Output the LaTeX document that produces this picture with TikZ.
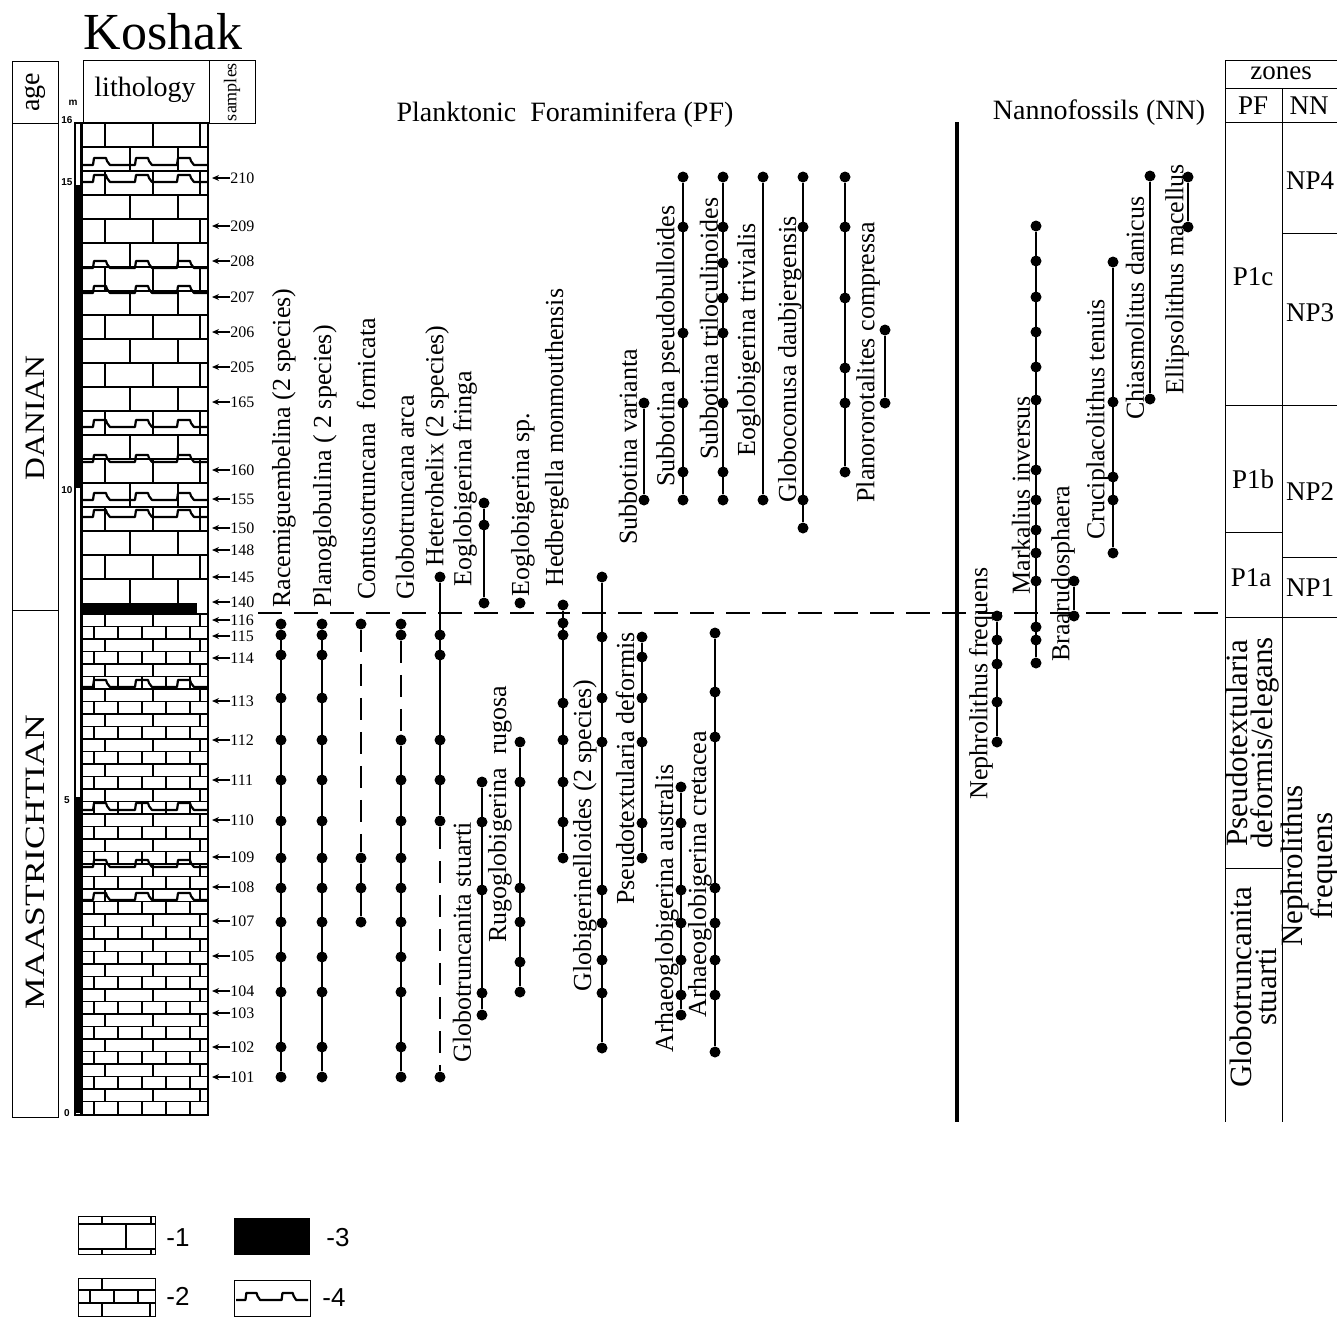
\documentclass[tikz,border=0pt]{standalone}
\usepackage{fontspec}
\setmainfont{Liberation Serif}
\setsansfont{Liberation Sans}
\usetikzlibrary{arrows.meta}

% dots of one range: name, x, list of y
\newcommand{\taxon}[3]{%
  \foreach \yy [count=\k] in {#3} {\node[fdot] (#1-\k) at (#2,\yy) {};}
}
% hardground line: left x, y, number of humps
\newcommand{\hardgr}[3]{%
  \draw[hg] (#1,#2) \foreach \p in {1,...,#3} { -- ++(11,0) -- ++(1,-7) -- ++(12,0) -- ++(1,3) -- ++(3,4) -- ++(14,0)};
}

\begin{document}
\begin{tikzpicture}[x=0.5pt, y=-0.5pt,
    fdot/.style={circle, fill=black, inner sep=0pt, minimum size=5.5pt},
    rng/.style={line width=1pt},
    rngd/.style={line width=1pt, dash pattern=on 11pt off 6pt},
    bnd/.style={line width=1pt, dash pattern=on 12pt off 6pt},
    lbl/.style={rotate=90, anchor=west, inner sep=0pt, font=\fontsize{13}{13}\selectfont},
    hdr/.style={inner sep=0pt, font=\fontsize{14}{14}\selectfont},
    zlbl/.style={inner sep=0pt, font=\fontsize{13.5}{14}\selectfont},
    zrot/.style={rotate=90, align=center, inner sep=0pt, font=\fontsize{15.5}{12.5}\selectfont},
    bline/.style={line width=0.5pt},
    brick/.style={line width=0.55pt},
    hg/.style={line width=1.1pt, line join=round},
    smp/.style={anchor=west, inner sep=0pt, font=\fontsize{8}{8}\selectfont},
    smparrow/.style={-{Stealth[length=3.5pt,width=3pt]}, line width=0.6pt},
    scalelbl/.style={inner sep=0pt, font=\sffamily\bfseries\fontsize{5}{5}\selectfont},
    leg/.style={inner sep=0pt, font=\sffamily\fontsize{13}{13}\selectfont}
]
    \fill[white] (0,0) rectangle (1337,1318);
    \useasboundingbox (0,0) rectangle (1337,1318);

    % Title and headers
    \node[font=\fontsize{26}{26}\selectfont, inner sep=0pt] (title) at (163,32) {Koshak};
    \draw[bline] (12,61) rectangle (58,123);
    \draw[bline] (12,123) rectangle (58,1117);
    \draw[bline] (12,610) -- (58,610);
    \node[rotate=90, inner sep=0pt, font=\fontsize{14}{14}\selectfont] (agehd) at (35,92) {age};
    \node[rotate=90, xscale=1.13, inner sep=0pt, font=\fontsize{14}{14}\selectfont] (danian) at (35,418) {DANIAN};
    \node[rotate=90, xscale=1.27, inner sep=0pt, font=\fontsize{14}{14}\selectfont] (maastr) at (35,862) {MAASTRICHTIAN};
    \draw[bline] (83,60) rectangle (209,123);
    \draw[bline] (209,60) rectangle (255,123);
    \node[inner sep=0pt, font=\fontsize{14}{14}\selectfont] (lithhd) at (145,90) {lithology};
    \node[rotate=90, inner sep=0pt, font=\fontsize{9}{9}\selectfont] (samphd) at (232,92) {samples};
    \node[hdr] (pfhd) at (565,115) {Planktonic~ Foraminifera (PF)};
    \node[hdr] (nnhd) at (1099,113) {Nannofossils (NN)};

    % Depth scale
    \node[scalelbl] (munit) at (73,103) {m};
    \foreach \m/\y in {16/120,15/182,10/490,5/800,0/1113}
        \node[scalelbl] (dep\m) at (67,\y) {\m};
    \draw[line width=0.8pt] (75,123) rectangle (81,1115);
    \fill (75,185) rectangle (81,488);
    \fill (75,797) rectangle (81,1113);

    % Lithology: Danian limestone
    \foreach \r in {0,...,19} {
        \draw[brick] (82,123+24*\r) -- (208,123+24*\r);
        \ifodd\r
            \foreach \xx in {130,178} \draw[brick] (\xx,123+24*\r) -- (\xx,147+24*\r);
        \else
            \foreach \xx in {105,153,200} \draw[brick] (\xx,123+24*\r) -- (\xx,147+24*\r);
        \fi
    }
    % Lithology: Maastrichtian limestone
    \foreach \r in {0,...,39} {
        \draw[brick] (82,614+12.5*\r) -- (208,614+12.5*\r);
        \ifodd\r
            \foreach \xx in {94,118,142,166,190} \draw[brick] (\xx,614+12.5*\r) -- (\xx,626.5+12.5*\r);
        \else
            \foreach \xx in {105,153,200} \draw[brick] (\xx,614+12.5*\r) -- (\xx,626.5+12.5*\r);
        \fi
    }
    \fill (82,603) rectangle (197,614);
    \foreach \hy in {165,182,268,293,427,462,500,517,687,810,867,900}
        \hardgr{82}{\hy}{3}
    \draw[line width=1pt] (82,123) rectangle (208,1115);

    % Samples
    \foreach \s/\y in {210/178,209/226,208/261,207/297,206/332,205/367,165/402,160/470,155/499,150/528,148/550,145/577,140/602,
                       116/620,115/636,114/658,113/701,112/740,111/780,110/820,109/857,108/887,107/921,105/956,104/991,103/1013,102/1047,101/1077} {
        \node[smp] (smp\s) at (230,\y) {\s};
        \coordinate (tip\s) at (212,\y);
        \draw[smparrow] (smp\s.west) -- (tip\s);
    }

    % K/Pg boundary and PF/NN divider
    \coordinate (kpgW) at (258,613);
    \coordinate (kpgE) at (1225,613);
    \draw[bnd] (kpgW) -- (kpgE);
    \coordinate (divN) at (957,122);
    \coordinate (divS) at (957,1122);
    \draw[line width=2.2pt] (divN) -- (divS);

    % Planktonic foraminifera, Maastrichtian
    \taxon{rac}{281}{624,635,655,698,740,780,821,858,888,922,957,992,1047,1077}
    \draw[rng] (rac-1) -- (rac-14);
    \taxon{pla}{322}{624,635,655,698,740,780,821,858,888,922,957,992,1047,1077}
    \draw[rng] (pla-1) -- (pla-14);
    \taxon{con}{361}{624,858,888,922}
    \draw[rngd] (con-1) -- (con-2);
    \draw[rng] (con-2) -- (con-4);
    \taxon{arc}{401}{624,635,740,780,821,858,888,922,957,992,1047,1077}
    \draw[rngd] (arc-2) -- (arc-3);
    \draw[rng] (arc-3) -- (arc-12);
    \taxon{het}{440}{577,635,655,740,780,821,1077}
    \draw[rng] (het-1) -- (het-6);
    \draw[rngd] (het-6) -- (het-7);
    \taxon{gst}{482}{782,822,890,993,1015}
    \draw[rng] (gst-1) -- (gst-5);
    \taxon{rug}{520}{742,782,888,922,962,992}
    \draw[rng] (rug-1) -- (rug-6);
    \taxon{hed}{563}{605,623,635,703,740,782,822,858}
    \draw[rng] (hed-1) -- (hed-8);
    \taxon{glo}{602}{577,637,698,742,890,923,960,993,1048}
    \draw[rng] (glo-1) -- (glo-9);
    \taxon{pse}{642}{637,657,698,742,823,858}
    \draw[rng] (pse-1) -- (pse-6);
    \taxon{aus}{681}{787,823,890,923,960,995,1015}
    \draw[rng] (aus-1) -- (aus-7);
    \taxon{cre}{715}{633,692,737,888,923,960,995,1052}
    \draw[rng] (cre-1) -- (cre-8);

    % Planktonic foraminifera, Danian
    \taxon{efr}{484}{503,525,603}
    \draw[rng] (efr-1) -- (efr-3);
    \taxon{esp}{520}{603}
    \taxon{sva}{644}{403,500}
    \draw[rng] (sva-1) -- (sva-2);
    \taxon{spb}{683}{177,227,333,403,472,500}
    \draw[rng] (spb-1) -- (spb-6);
    \taxon{str}{723}{177,227,263,298,333,403,472,500}
    \draw[rng] (str-1) -- (str-8);
    \taxon{etr}{763}{177,500}
    \draw[rng] (etr-1) -- (etr-2);
    \taxon{gda}{803}{177,227,500,528}
    \draw[rng] (gda-1) -- (gda-4);
    \taxon{pco}{845}{177,227,298,368,403,472}
    \draw[rng] (pco-1) -- (pco-6);
    \taxon{pcb}{885}{330,403}
    \draw[rng] (pcb-1) -- (pcb-2);

    % Nannofossils
    \taxon{nfr}{997}{616,640,664,702,742}
    \draw[rng] (nfr-1) -- (nfr-5);
    \taxon{min}{1036}{226,261,297,332,367,400,470,500,530,553,581,627,640,663}
    \draw[rng] (min-1) -- (min-14);
    \taxon{bra}{1074}{581,616}
    \draw[rng] (bra-1) -- (bra-2);
    \taxon{cte}{1113}{262,402,477,500,553}
    \draw[rng] (cte-1) -- (cte-5);
    \taxon{cda}{1150}{176,399}
    \draw[rng] (cda-1) -- (cda-2);
    \taxon{ema}{1188}{177,227}
    \draw[rng] (ema-1) -- (ema-2);

    % Range labels
    \node[lbl] (lrac) at (284,608) {Racemiguembelina (2 species)};
    \node[lbl] (lpla) at (325,608) {Planoglobulina ( 2 species)};
    \node[lbl] (lcon) at (366,600) {Contusotruncana~ fornicata};
    \node[lbl] (larc) at (405,600) {Globotruncana arca};
    \node[lbl] (lhet) at (437,567) {Heterohelix (2 species)};
    \node[lbl] (lefr) at (465,587) {Eoglobigerina fringa};
    \node[lbl] (lesp) at (523,597) {Eoglobigerina sp.};
    \node[lbl] (lhed) at (557,587) {Hedbergella monmouthensis};
    \node[lbl] (lsva) at (628,545) {Subbotina varianta};
    \node[lbl] (lspb) at (668,487) {Subbotina pseudobulloides};
    \node[lbl] (lstr) at (709,460) {Subbotina triloculinoides};
    \node[lbl] (letr) at (749,457) {Eoglobigerina trivialis};
    \node[lbl] (lgda) at (790,503) {Globoconusa daubjergensis};
    \node[lbl] (lpco) at (868,503) {Planororotalites compressa};
    \node[lbl] (lgst) at (462,1063) {Globotruncanita stuarti};
    \node[lbl] (lrug) at (500,943) {Rugoglobigerina~ rugosa};
    \node[lbl] (lglo) at (585,992) {Globigerinelloides (2 species)};
    \node[lbl] (lpse) at (625,905) {Pseudotextularia deformis};
    \node[lbl] (laus) at (667,1053) {Arhaeoglobigerina australis};
    \node[lbl] (lcre) at (700,1018) {Arhaeoglobigerina cretacea};
    \node[lbl] (lnfr) at (981,800) {Nephrolithus frequens};
    \node[lbl] (lmin) at (1021,595) {Markalius inversus};
    \node[lbl] (lbra) at (1063,662) {Braarudosphaera};
    \node[lbl] (lcte) at (1098,540) {Cruciplacolithus tenuis};
    \node[lbl] (lcda) at (1135,420) {Chiasmolitus danicus};
    \node[lbl] (lema) at (1177,395) {Ellipsolithus macellus};

    % Zones
    \draw[bline] (1225,60) -- (1337,60) (1225,88) -- (1337,88) (1225,122) -- (1337,122);
    \draw[bline] (1225,60) -- (1225,1122) (1282,88) -- (1282,1122);
    \draw[bline] (1225,405) -- (1337,405) (1225,617) -- (1337,617);
    \draw[bline] (1225,532) -- (1282,532) (1225,868) -- (1282,868);
    \draw[bline] (1282,233) -- (1337,233) (1282,557) -- (1337,557);
    \node[zlbl] (zhd) at (1281,73) {zones};
    \node[zlbl] (zpf) at (1253,106) {PF};
    \node[zlbl] (znn) at (1309,106) {NN};
    \node[zlbl] (zp1c) at (1253,277) {P1c};
    \node[zlbl] (zp1b) at (1253,479) {P1b};
    \node[zlbl] (zp1a) at (1251,578) {P1a};
    \node[zlbl] (znp4) at (1310,181) {NP4};
    \node[zlbl] (znp3) at (1310,313) {NP3};
    \node[zlbl] (znp2) at (1310,492) {NP2};
    \node[zlbl] (znp1) at (1310,588) {NP1};
    \node[zrot] (zpse) at (1253,743) {Pseudotextularia\\deformis/elegans};
    \node[zrot] (zgst) at (1253,987) {Globotruncanita\\stuarti};
    \node[zrot] (znfr) at (1310,866) {Nephrolithus\\frequens};

    % Legend
    \draw[bline] (78,1216) rectangle (155,1254);
    \draw[brick] (78,1224) -- (155,1224) (78,1249) -- (155,1249)
        (102,1216) -- (102,1224) (151,1216) -- (151,1224) (126,1224) -- (126,1249)
        (102,1249) -- (102,1254) (151,1249) -- (151,1254);
    \node[leg] (leg1) at (178,1238) {-1};
    \draw[bline] (78,1278) rectangle (155,1316);
    \draw[brick] (78,1290) -- (155,1290) (78,1303) -- (155,1303)
        (102,1278) -- (102,1290) (90,1290) -- (90,1303) (114,1290) -- (114,1303) (138,1290) -- (138,1303)
        (102,1303) -- (102,1316) (150,1303) -- (150,1316);
    \node[leg] (leg2) at (178,1296) {-2};
    \fill (234,1218) rectangle (310,1255);
    \node[leg] (leg3) at (338,1238) {-3};
    \draw[bline] (234,1280) rectangle (310,1316);
    \begin{scope}[shift={(236,1300)}, xscale=0.86]
        \hardgr{0}{0}{2}
    \end{scope}
    \node[leg] (leg4) at (334,1298) {-4};
\end{tikzpicture}
\end{document}
